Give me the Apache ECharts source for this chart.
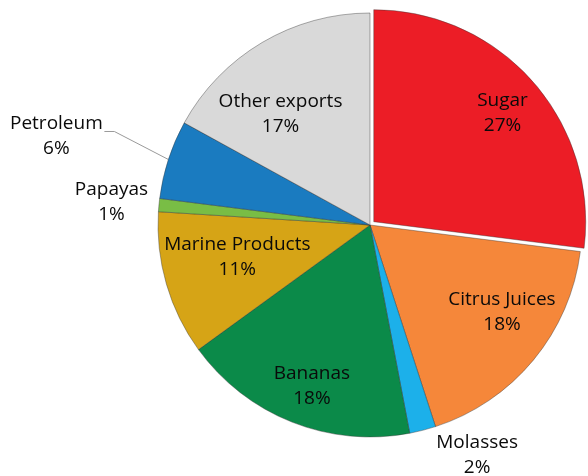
<!DOCTYPE html>
<html>
<head>
<meta charset="utf-8">
<script src="https://cdn.jsdelivr.net/npm/echarts@6/dist/echarts.min.js"></script>
<style>
  html, body { margin: 0; padding: 0; background: #ffffff; }
  #chart { width: 588px; height: 476px; }
</style>
</head>
<body>
<div id="chart"></div>
<script>
// Export shares (%), clockwise from twelve o'clock
const categories = ['Sugar', 'Citrus Juices', 'Molasses', 'Bananas', 'Marine Products', 'Papayas', 'Petroleum', 'Other exports'];
const shares = [27, 18, 2, 18, 11, 1, 6, 17];
const colors = ['#EC1D26', '#F5873A', '#1CB0EA', '#0B8A49', '#D6A416', '#79BD45', '#1A7BC0', '#D9D9D9'];

// Label nudges away from the default inside anchor [dx, dy]
const labelShift = [[47, -37], [48, 18], [80, 125], [-18, 60], [-28, 2], [-150, -13], [0, 0], [-34, -17]];
const leaderIndex = 6; // Petroleum carries a leader line

const chart = echarts.init(document.getElementById('chart'), null, { renderer: 'canvas' });

const data = categories.map(function (name, i) {
  const item = {
    name: name,
    value: shares[i],
    itemStyle: { color: colors[i] }
  };
  if (i === 0) item.selected = true;
  if (i === leaderIndex) {
    item.label = { position: 'outside' };
    item.labelLine = { show: true };
  }
  return item;
});

chart.setOption({
  backgroundColor: '#ffffff',
  animation: false,
  series: [{
    type: 'pie',
    center: [370, 225],
    radius: 212,
    startAngle: 90,
    clockwise: true,
    avoidLabelOverlap: false,
    selectedMode: 'single',
    selectedOffset: 5,
    emphasis: { disabled: true },
    itemStyle: {
      borderColor: 'rgba(50,50,50,0.4)',
      borderWidth: 1
    },
    label: {
      show: true,
      position: 'inside',
      formatter: function (p) { return p.name + '\n' + p.value + '%'; },
      color: '#0a0a0a',
      fontFamily: '"Open Sans", sans-serif',
      fontSize: 19,
      lineHeight: 25,
      align: 'center'
    },
    labelLine: {
      show: false,
      lineStyle: { color: '#9a9a9a', width: 1 }
    },
    labelLayout: function (p) {
      const i = p.dataIndex;
      if (i === leaderIndex && p.labelLinePoints) {
        const e = p.labelLinePoints[0];
        return {
          x: e[0] - 112,
          y: e[1] - 23,
          align: 'center',
          verticalAlign: 'middle',
          labelLinePoints: [e, [e[0] - 54, e[1] - 28], [e[0] - 64, e[1] - 28]]
        };
      }
      return { dx: labelShift[i][0], dy: labelShift[i][1] };
    },
    data: data
  }]
});
</script>
</body>
</html>
